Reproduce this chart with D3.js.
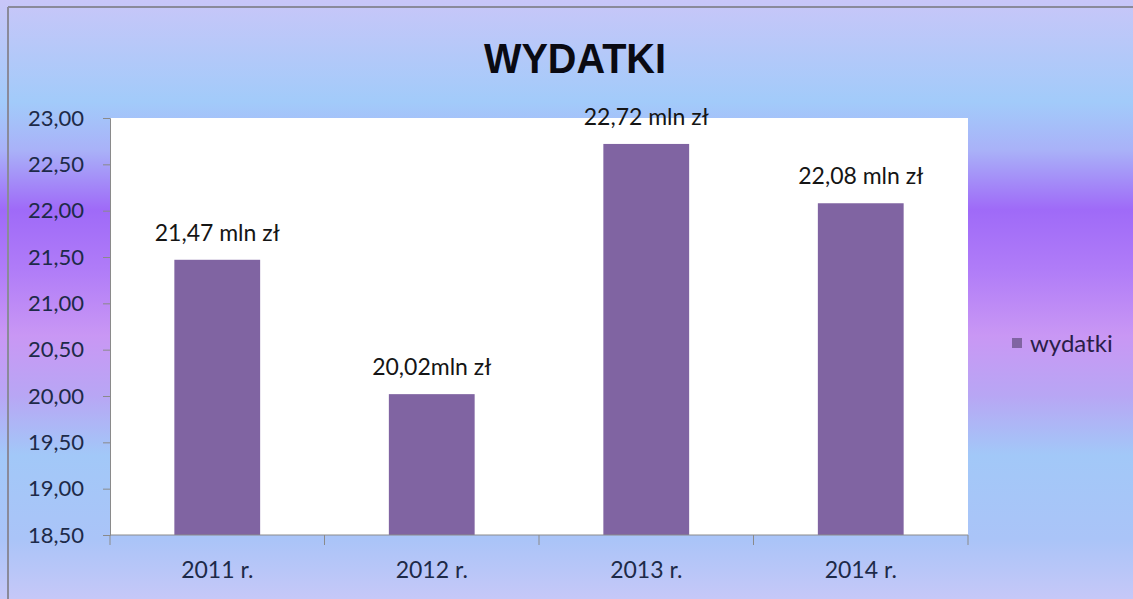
<!DOCTYPE html>
<html><head><meta charset="utf-8">
<script src="https://cdn.jsdelivr.net/npm/d3@7"></script>
<style>html,body{margin:0;padding:0;background:#fff;}svg{display:block;}</style>
</head><body>
<svg id="c" width="1133" height="599"></svg>
<script>
const categories = ["2011 r.", "2012 r.", "2013 r.", "2014 r."];
const values = [21.47, 20.02, 22.72, 22.08];
const valueLabels = ["21,47 mln zł", "20,02mln zł", "22,72 mln zł", "22,08 mln zł"];
const yTicks = [18.5, 19, 19.5, 20, 20.5, 21, 21.5, 22, 22.5, 23];
const seriesName = "wydatki";
const title = "WYDATKI";

(function(){
const W = 1133, H = 599;
const svg = d3.select("#c");
const defs = svg.append("defs");
const g = defs.append("linearGradient").attr("id","bg").attr("x1",0).attr("y1",0).attr("x2",0).attr("y2",1);
[[0,"#c8c6f8"],[0.17,"#a2cbfa"],[0.25,"#a9b2f8"],[0.35,"#9f6af8"],[0.45,"#b07cf8"],[0.56,"#c997f4"],[0.66,"#b8a6f4"],[0.76,"#a2c8f8"],[0.9,"#aac4f8"],[1,"#c6c8f8"]]
  .forEach(([o,c])=>g.append("stop").attr("offset",o).attr("stop-color",c));
svg.append("rect").attr("width",W).attr("height",H).attr("fill","url(#bg)");
// frame
svg.append("line").attr("x1",8).attr("x2",8).attr("y1",7).attr("y2",H).attr("stroke","#8a8a9a").attr("stroke-width",2);
svg.append("line").attr("x1",8).attr("x2",W).attr("y1",7).attr("y2",7).attr("stroke","#8a8a9a").attr("stroke-width",2);

const font = "Lato, 'Open Sans', sans-serif";
const pL = 110, pR = 968, pT = 118, pB = 535;

svg.append("rect").attr("x",pL).attr("y",pT).attr("width",pR-pL).attr("height",pB-pT).attr("fill","#fff");

const x = d3.scaleBand().domain(categories).range([pL, pR]).paddingInner(0.6).paddingOuter(0.3);
const y = d3.scaleLinear().domain([18.5, 23]).range([pB, pT]);

// bars
svg.selectAll("rect.bar").data(values).enter().append("rect").attr("class","bar")
  .attr("x",(d,i)=>x(categories[i])).attr("width",x.bandwidth())
  .attr("y",d=>y(d)).attr("height",d=>y(18.5)-y(d)).attr("fill","#8064a2");

// data labels
svg.selectAll("text.dl").data(values).enter().append("text").attr("class","dl")
  .attr("x",(d,i)=>x(categories[i])+x.bandwidth()/2).attr("y",d=>y(d)-19)
  .attr("text-anchor","middle").attr("font-family",font).attr("font-size",23).attr("fill","#151515")
  .text((d,i)=>valueLabels[i]);

// y axis
const yAxis = d3.axisLeft(y).tickValues(yTicks).tickSize(7).tickPadding(19)
  .tickFormat(d=>d3.format(".2f")(d).replace(".",","));
const ya = svg.append("g").attr("transform",`translate(${pL},0)`).call(yAxis);
ya.select(".domain").attr("stroke","#8a8a8a");
ya.selectAll(".tick line").attr("stroke","#8a8a8a");
ya.selectAll(".tick text").attr("font-family",font).attr("font-size",22).attr("fill","#1d2a48");

// x axis
const xAxis = d3.axisBottom(x).tickSize(0).tickPadding(27);
const xa = svg.append("g").attr("transform",`translate(0,${pB})`).call(xAxis);
xa.select(".domain").attr("stroke","#8a8a8a").attr("d",`M${pL},0H${pR}`);
xa.selectAll(".tick text").attr("font-family",font).attr("font-size",23).attr("fill","#1d2a48");
const bounds = d3.range(categories.length+1).map(i=>pL + i*(pR-pL)/categories.length);
xa.selectAll("line.bt").data(bounds).enter().append("line").attr("class","bt")
  .attr("x1",d=>d).attr("x2",d=>d).attr("y1",0).attr("y2",10).attr("stroke","#8a8a8a");

// title
svg.append("text").attr("x",575).attr("y",73).attr("text-anchor","middle")
  .attr("font-family","'Liberation Sans', Arial, sans-serif").attr("font-weight","bold").attr("font-size",43)
  .attr("textLength",182).attr("lengthAdjust","spacingAndGlyphs").attr("fill","#0a0a12").text(title);

// legend
svg.append("rect").attr("x",1012).attr("y",338).attr("width",10).attr("height",10).attr("fill","#8064a2");
svg.append("text").attr("x",1030).attr("y",352).attr("font-family",font).attr("font-size",24).attr("fill","#2a1d48").text(seriesName);
})();
</script>
</body></html>
